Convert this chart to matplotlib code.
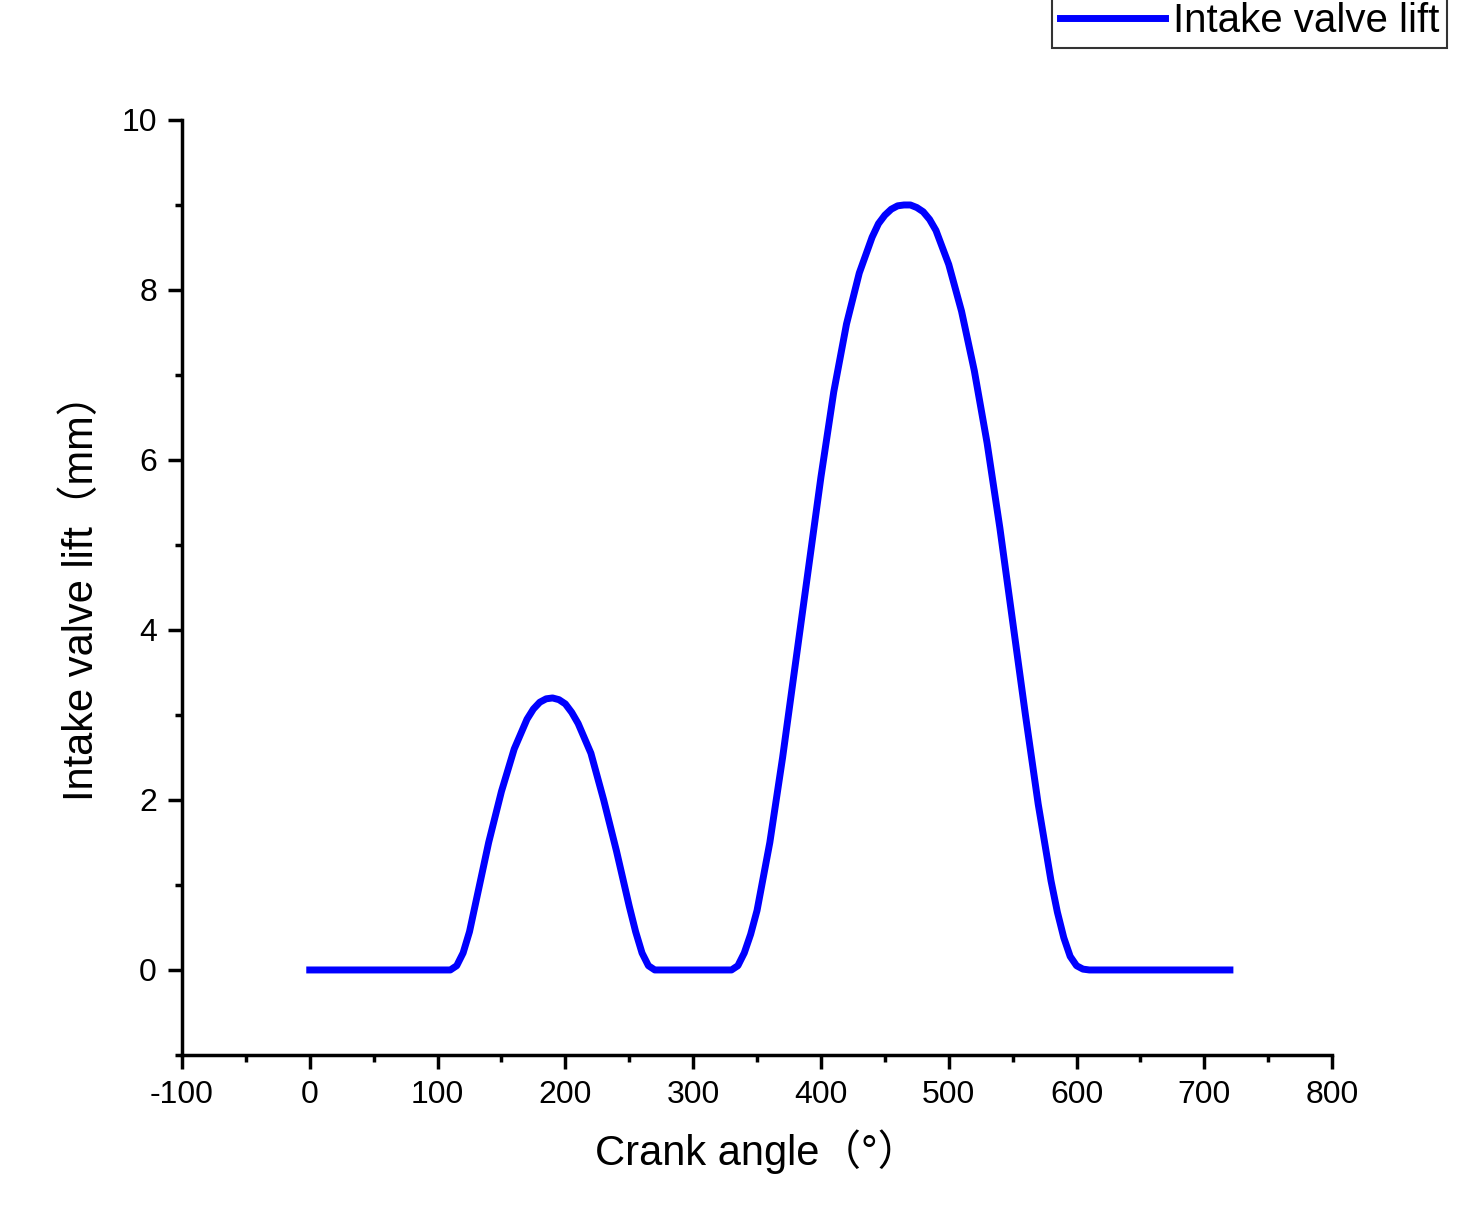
import matplotlib.pyplot as plt
from matplotlib.ticker import MultipleLocator

plt.rcParams['font.family'] = ['Liberation Sans', 'Noto Sans CJK SC', 'DejaVu Sans']
plt.rcParams['axes.unicode_minus'] = False

# crank angle (deg) and intake valve lift (mm)
angle = [0, 100, 110, 115, 120, 125, 130, 140, 150, 160, 170, 175, 180, 185, 190, 195, 200,
         205, 210, 220, 230, 240, 250, 255, 260, 265, 270, 300, 330, 335, 340, 345, 350,
         360, 370, 380, 390, 400, 410, 420, 430, 440, 445, 450, 455, 460, 465, 470, 475,
         480, 485, 490, 500, 510, 520, 530, 540, 550, 560, 570, 580, 585, 590, 595, 600,
         605, 610, 650, 720]
lift = [0, 0, 0, 0.05, 0.2, 0.45, 0.8, 1.5, 2.1, 2.6, 2.95, 3.07, 3.15, 3.19, 3.2, 3.18, 3.13,
        3.03, 2.9, 2.55, 2.0, 1.4, 0.75, 0.45, 0.2, 0.05, 0, 0, 0, 0.05, 0.2, 0.42, 0.7,
        1.5, 2.5, 3.6, 4.7, 5.8, 6.8, 7.6, 8.2, 8.62, 8.78, 8.88, 8.95, 8.99, 9.0, 9.0, 8.97,
        8.92, 8.83, 8.7, 8.3, 7.75, 7.05, 6.2, 5.2, 4.1, 3.0, 1.95, 1.05, 0.68, 0.38, 0.16, 0.05,
        0.01, 0, 0, 0]

fig = plt.figure(figsize=(14.72, 12.23), dpi=100)
ax = fig.add_axes([0.1236, 0.1374, 0.7814, 0.7645])
ax.plot(angle, lift, color='#0000ff', lw=5, label='Intake valve lift')

ax.set_xlim(-100, 800)
ax.set_ylim(-1, 10)
ax.xaxis.set_major_locator(MultipleLocator(100))
ax.xaxis.set_minor_locator(MultipleLocator(50))
ax.yaxis.set_major_locator(MultipleLocator(2))
ax.yaxis.set_minor_locator(MultipleLocator(1))
for s in ['top', 'right']:
    ax.spines[s].set_visible(False)
for s in ['left', 'bottom']:
    ax.spines[s].set_linewidth(2.5)
ax.tick_params(which='major', direction='out', length=10, width=2.5, labelsize=23, pad=8)
ax.tick_params(which='minor', direction='out', length=5, width=2.5)

ax.set_xlabel('Crank angle（°）', fontsize=30, labelpad=14)
ax.set_ylabel('Intake valve lift（mm）', fontsize=30, labelpad=14)

leg = ax.legend(loc='upper right', bbox_to_anchor=(1.1, 1.135), fontsize=29,
                frameon=True, fancybox=False, edgecolor='black', handlelength=2.6,
                borderpad=0.2, handletextpad=0.2, borderaxespad=0)
leg.get_frame().set_linewidth(1.5)

fig.savefig('out.png', dpi=100)
